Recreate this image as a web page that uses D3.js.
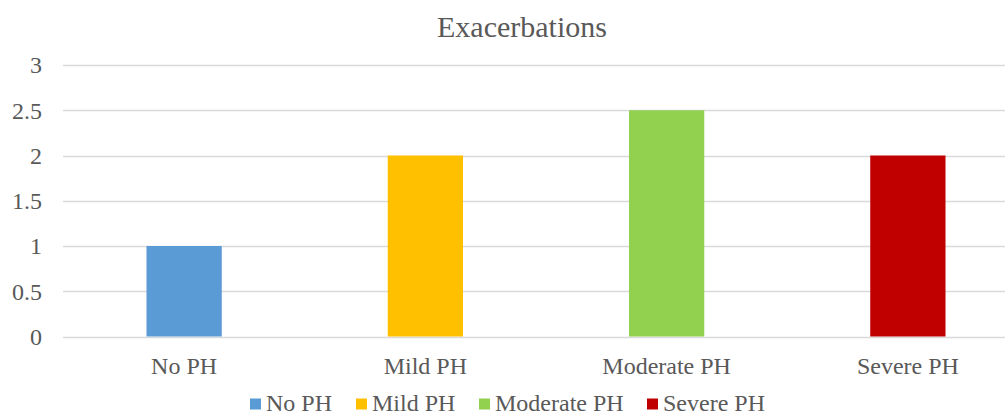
<!DOCTYPE html>
<html>
<head>
<meta charset="utf-8">
<title>Exacerbations</title>
<style>
    body { margin: 0; background: #fff; }
    svg { display: block; }
    text { fill: #595959; }
</style>
</head>
<body>
<main></main>
<script src="https://cdn.jsdelivr.net/npm/d3@7"></script>
<script>
    // data
    var categories = ["No PH", "Mild PH", "Moderate PH", "Severe PH"];
    var values = [1, 2, 2.5, 2];
    var colors = ["#5B9BD5", "#FFC000", "#92D050", "#C00000"];
    var yTicks = [0, 0.5, 1, 1.5, 2, 2.5, 3];

    var width = 1005;
    var height = 414;
    var font = "'Liberation Serif', 'Times New Roman', serif";

    var svg = d3.select("main").append("svg")
        .attr("width", width)
        .attr("height", height)
        .style("font-family", font);

    // scales (plot area runs past the right edge, picture is cropped)
    var x = d3.scaleBand().domain(categories).range([63.5, 1028.5]).padding(0);
    var y = d3.scaleLinear().domain([0, 3]).range([336.5, 65]);
    var barW = x.bandwidth() * 0.312;

    // gridlines
    svg.append("g").selectAll("line")
        .data(yTicks)
        .enter().append("line")
        .attr("x1", 63).attr("x2", width)
        .attr("y1", function (d) { return Math.round(y(d)) + 0.5; })
        .attr("y2", function (d) { return Math.round(y(d)) + 0.5; })
        .attr("stroke", "#d9d9d9")
        .attr("stroke-width", 1.3);

    // y labels
    svg.append("g").selectAll("text")
        .data(yTicks)
        .enter().append("text")
        .attr("x", 42)
        .attr("y", function (d) { return y(d); })
        .attr("dy", "0.35em")
        .attr("text-anchor", "end")
        .style("font-size", "24px")
        .text(function (d) { return d; });

    // bars
    svg.append("g").selectAll("rect")
        .data(values)
        .enter().append("rect")
        .attr("x", function (d, i) { return x(categories[i]) + (x.bandwidth() - barW) / 2; })
        .attr("y", function (d) { return y(d); })
        .attr("width", barW)
        .attr("height", function (d) { return y(0) - y(d); })
        .attr("fill", function (d, i) { return colors[i]; });

    // category labels
    svg.append("g").selectAll("text")
        .data(categories)
        .enter().append("text")
        .attr("x", function (d) { return x(d) + x.bandwidth() / 2; })
        .attr("y", 374)
        .attr("text-anchor", "middle")
        .style("font-size", "24px")
        .text(function (d) { return d; });

    // title
    svg.append("text")
        .attr("x", 522)
        .attr("y", 37)
        .attr("text-anchor", "middle")
        .style("font-size", "30px")
        .text("Exacerbations");

    // legend
    var legendX = [250, 356, 479, 647];
    var legend = svg.append("g").selectAll("g")
        .data(categories)
        .enter().append("g")
        .attr("transform", function (d, i) { return "translate(" + legendX[i] + ",0)"; });
    legend.append("rect")
        .attr("x", 0).attr("y", 398.5)
        .attr("width", 11).attr("height", 11)
        .attr("fill", function (d, i) { return colors[i]; });
    legend.append("text")
        .attr("x", 16).attr("y", 410.5)
        .style("font-size", "24px")
        .text(function (d) { return d; });
</script>
</body>
</html>
